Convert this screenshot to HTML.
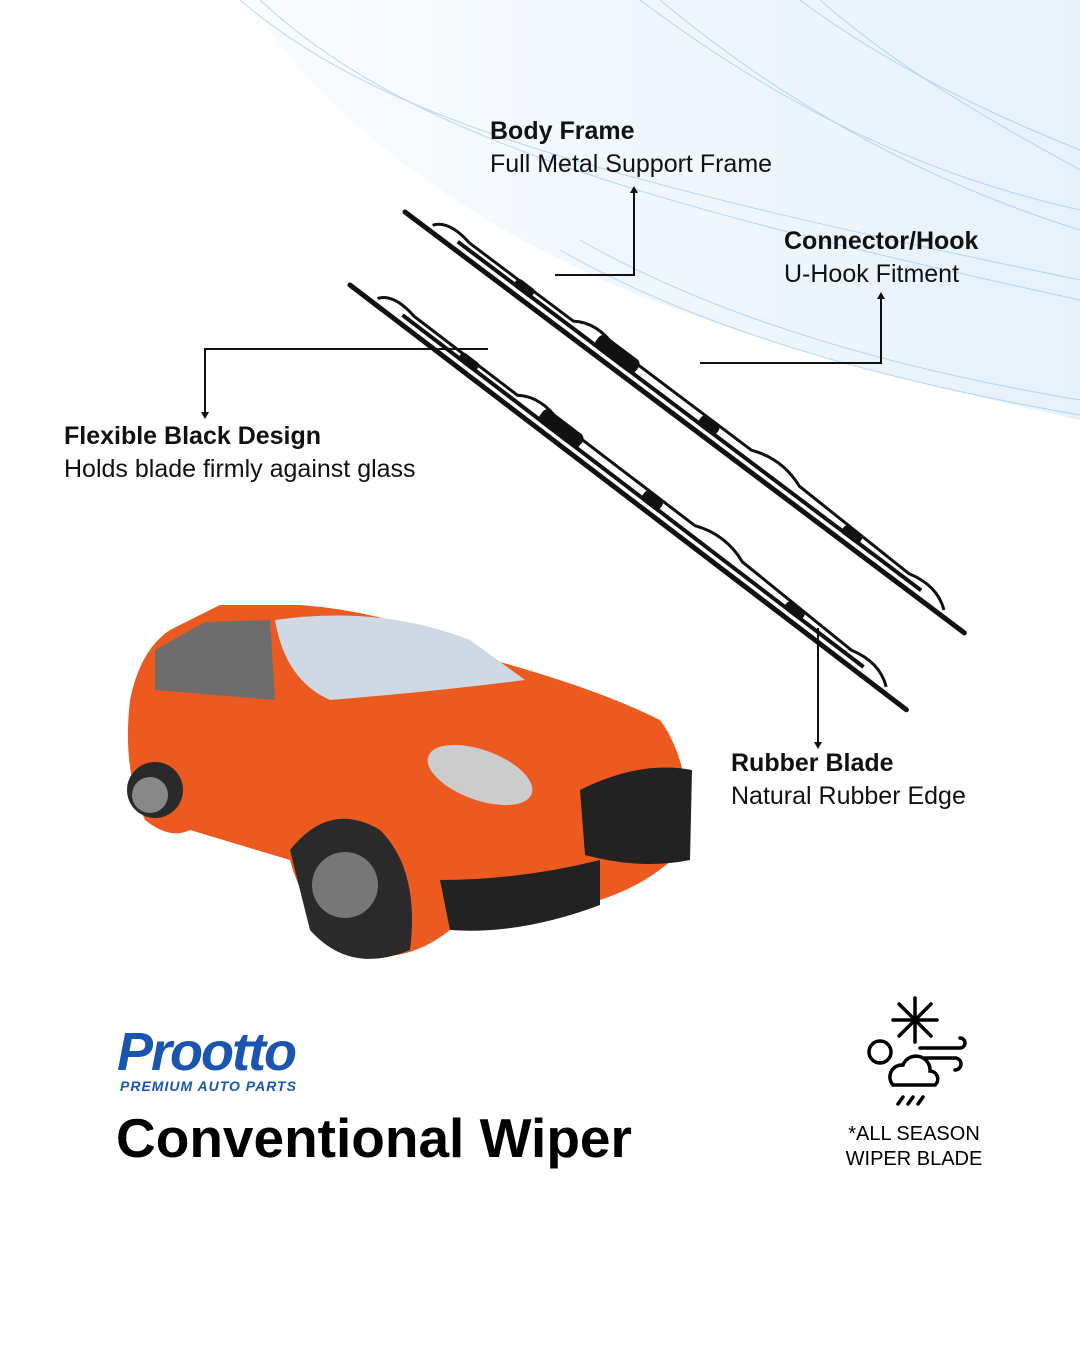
<!DOCTYPE html>
<html><head><meta charset="utf-8"><style>
body{margin:0;width:1080px;height:1350px;overflow:hidden;background:#fff;font-family:"Liberation Sans",sans-serif;position:relative}
.t{position:absolute;color:#111;font-size:25px;line-height:33px;white-space:nowrap}
.t b{font-weight:bold}
</style></head><body>
<svg width="1080" height="1350" style="position:absolute;left:0;top:0">
<defs><linearGradient id="g" x1="0" y1="0" x2="1" y2="0"><stop offset="0" stop-color="#fff"/><stop offset="1" stop-color="#d6e8f8"/></linearGradient>
<g id="wp">
<line x1="0" y1="0" x2="700" y2="0" stroke="#111" stroke-width="5" stroke-linecap="round"/>
<path d="M60 -8 L640 -8" stroke="#111" stroke-width="4"/>
<path d="M30 -6 Q40 -20 70 -14 L200 -14 Q220 -28 250 -18 L420 -18 Q450 -30 480 -18 L620 -14 Q650 -22 670 -6" fill="none" stroke="#111" stroke-width="3"/>
<rect x="230" y="-22" width="50" height="16" rx="6" fill="#111"/>
<rect x="130" y="-16" width="22" height="10" rx="4" fill="#111"/>
<rect x="360" y="-18" width="22" height="12" rx="4" fill="#111"/>
<rect x="540" y="-16" width="22" height="10" rx="4" fill="#111"/>
</g></defs>
<path d="M0 0 H1080 V420 C900 380 700 330 560 260 C420 190 300 90 250 0Z" fill="url(#g)" opacity=".6"/>
<g fill="none" stroke="#8fc0ec" stroke-width="1" opacity=".6">
<path d="M240 0 C380 120 600 180 1080 280"/><path d="M260 0 C400 130 620 200 1080 300"/>
<path d="M640 0 C760 90 900 170 1080 210"/><path d="M660 0 C780 100 920 180 1080 230"/>
<path d="M800 0 C880 60 980 110 1080 150"/><path d="M820 0 C900 70 990 120 1080 170"/>
<path d="M560 250 C700 330 880 380 1080 415"/><path d="M580 240 C720 320 900 370 1080 400"/>
</g>
<use href="#wp" transform="translate(405 212) rotate(36.96)"/>
<use href="#wp" transform="translate(350 285) rotate(37.36)"/>
<g stroke="#111" stroke-width="2" fill="none">
<path d="M634 192 V275 H555"/><path d="M881 298 V363 H700"/>
<path d="M488 349 H205 V413"/><path d="M818 628 V743"/>
</g>
<g fill="#111"><path d="M630 193 L634 186 L638 193Z"/><path d="M877 299 L881 292 L885 299Z"/><path d="M201 412 L205 419 L209 412Z"/><path d="M814 742 L818 749 L822 742Z"/></g>
<!-- car -->
<path d="M130 700 Q140 650 170 630 L220 605 L300 605 Q400 612 500 662 Q600 690 660 720 Q690 760 690 840 Q660 880 600 900 L450 930 Q400 970 340 950 Q300 900 290 860 L190 830 Q170 840 145 820 Q122 770 130 700Z" fill="#ec5a1f"/>
<path d="M275 620 Q380 605 470 640 L525 680 Q430 692 330 700 Q285 680 275 620Z" fill="#cfd9e3"/>
<path d="M155 650 L205 622 L270 620 L275 700 L155 690Z" fill="#6d6d6d"/>
<path d="M580 790 Q640 760 692 770 L690 860 Q640 870 585 855Z" fill="#222"/>
<path d="M290 850 Q330 800 380 830 Q420 870 410 950 Q350 975 310 930Z" fill="#2a2a2a"/>
<circle cx="345" cy="885" r="33" fill="#777"/>
<circle cx="155" cy="790" r="28" fill="#2a2a2a"/><circle cx="150" cy="795" r="18" fill="#888"/>
<path d="M440 880 Q520 880 600 860 L600 905 Q520 935 450 930Z" fill="#222"/>
<ellipse cx="480" cy="775" rx="55" ry="25" fill="#ccc" transform="rotate(20 480 775)"/>
<g stroke="#000" stroke-width="3.5" fill="none" stroke-linecap="round">
<g transform="translate(915 1020)"><line x1="0" y1="-22" x2="0" y2="22"/><line x1="-22" y1="0" x2="22" y2="0"/><line x1="-16" y1="-16" x2="16" y2="16"/><line x1="-16" y1="16" x2="16" y2="-16"/></g>
<circle cx="880" cy="1052" r="11"/>
<path d="M893 1085 a12 12 0 0 1 10 -20 a14 14 0 0 1 27 6 a8 8 0 0 1 5 14Z"/>
<path d="M920 1048 H960 a5 5 0 0 0 0 -10 M925 1058 H955 a6 6 0 0 1 0 12"/>
<path d="M898 1104 l5 -7 M908 1104 l5 -7 M918 1104 l5 -7"/>
</g>
</svg>
<div class="t" style="left:490px;top:115px"><b>Body Frame</b><br>Full Metal Support Frame</div>
<div class="t" style="left:784px;top:225px"><b>Connector/Hook</b><br>U-Hook Fitment</div>
<div class="t" style="left:64px;top:420px"><b>Flexible Black Design</b><br>Holds blade firmly against glass</div>
<div class="t" style="left:731px;top:747px"><b>Rubber Blade</b><br>Natural Rubber Edge</div>
<div style="position:absolute;left:117px;top:1022px;color:#1a56b0;font-weight:bold;font-style:italic;font-size:54px;letter-spacing:-2px;line-height:60px">Prootto</div>
<div style="position:absolute;left:120px;top:1078px;color:#1a56b0;font-weight:bold;font-style:italic;font-size:14px;letter-spacing:1px">PREMIUM AUTO PARTS</div>
<div style="position:absolute;left:116px;top:1106px;font-weight:bold;font-size:55px;line-height:64px;color:#000">Conventional Wiper</div>
<div style="position:absolute;left:830px;top:1122px;width:168px;text-align:center;font-size:20px;line-height:25px;color:#000">*ALL SEASON<br>WIPER BLADE</div>
</body></html>
